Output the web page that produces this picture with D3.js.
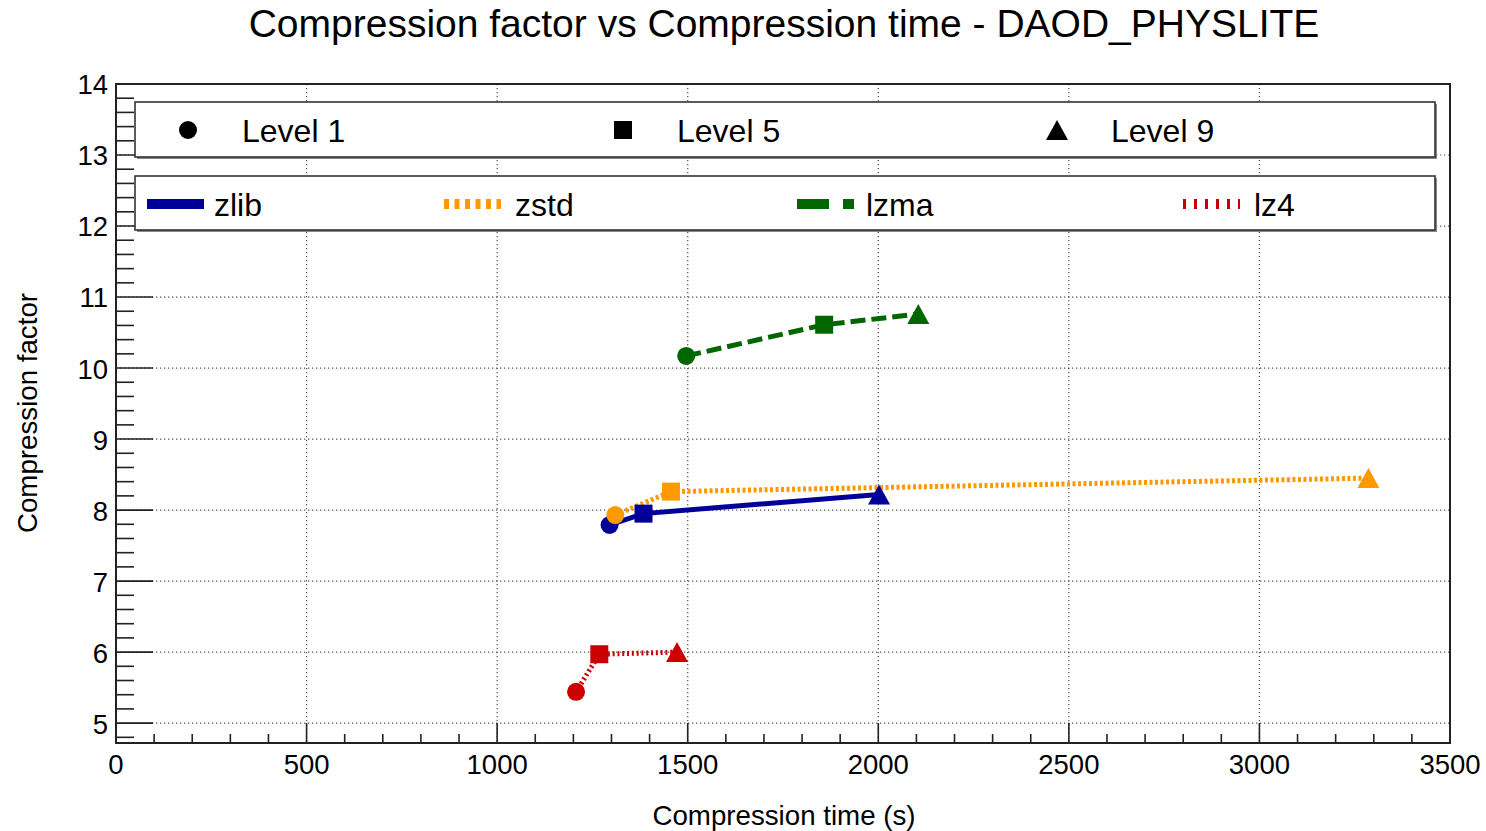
<!DOCTYPE html>
<html>
<head>
<meta charset="utf-8">
<script src="https://cdn.jsdelivr.net/npm/d3@7"></script>
<style>
  html, body { margin: 0; padding: 0; background: #fff; }
  svg { display: block; font-family: "Liberation Sans", Arial, Helvetica, sans-serif; }
</style>
</head>
<body>
<svg id="chart" width="1486" height="831"></svg>
<script>
// Compression benchmark: time (s) and compression factor per algorithm, at levels 1, 5, 9
const levels = ["Level 1", "Level 5", "Level 9"];
const algorithms = ["zlib", "zstd", "lzma", "lz4"];

const zlibTime = [1295, 1384, 2002];
const zlibFactor = [7.79, 7.95, 8.22];
const zstdTime = [1310, 1456, 3286];
const zstdFactor = [7.93, 8.26, 8.45];
const lzmaTime = [1496, 1858, 2105];
const lzmaFactor = [10.17, 10.61, 10.76];
const lz4Time = [1207, 1268, 1472];
const lz4Factor = [5.44, 5.97, 6.00];

const xTicks = [0, 500, 1000, 1500, 2000, 2500, 3000, 3500];
const yTicks = [5, 6, 7, 8, 9, 10, 11, 12, 13, 14];

const seriesStyle = {
  zlib: { color: "#000099", dash: null,       legendDash: null },
  zstd: { color: "#ff9900", dash: "3,2.5",    legendDash: "5,5.5" },
  lzma: { color: "#006600", dash: "15,6",     legendDash: "32,14" },
  lz4:  { color: "#cc0000", dash: "2,2.8",    legendDash: "3,8" }
};
const seriesData = {
  zlib: { time: zlibTime, factor: zlibFactor },
  zstd: { time: zstdTime, factor: zstdFactor },
  lzma: { time: lzmaTime, factor: lzmaFactor },
  lz4:  { time: lz4Time,  factor: lz4Factor }
};

const svg = d3.select("#chart");
const frame = { left: 116, right: 1450, top: 84, bottom: 743 };

const x = d3.scaleLinear().domain([0, 3500]).range([frame.left, frame.right]);
const y = d3.scaleLinear().domain([4.72, 14]).range([frame.bottom, frame.top]);

const axisColor = "#222";

// Grid (dotted)
const grid = svg.append("g");
grid.selectAll("line.gy").data(yTicks).join("line")
  .attr("x1", frame.left).attr("x2", frame.right)
  .attr("y1", d => y(d)).attr("y2", d => y(d))
  .attr("stroke", "#555").attr("stroke-width", 1.2)
  .attr("stroke-dasharray", "1.3,2.7");
grid.selectAll("line.gx").data(xTicks.filter(d => d > 0 && d < 3500)).join("line")
  .attr("x1", d => x(d)).attr("x2", d => x(d))
  .attr("y1", frame.top).attr("y2", frame.bottom)
  .attr("stroke", "#555").attr("stroke-width", 1.2)
  .attr("stroke-dasharray", "1.3,2.7");

// Minor/major ticks
const yMinor = d3.range(48, 141, 2).map(v => v / 10).filter(v => !yTicks.includes(v));
const xMinor = d3.range(100, 3500, 100).filter(v => v % 500 !== 0);

const ticks = svg.append("g").attr("stroke", axisColor).attr("stroke-width", 1.6);
ticks.selectAll("line.ymaj").data(yTicks).join("line")
  .attr("x1", frame.left).attr("x2", frame.left + 37)
  .attr("y1", d => y(d)).attr("y2", d => y(d));
ticks.selectAll("line.ymin").data(yMinor).join("line")
  .attr("x1", frame.left).attr("x2", frame.left + 18)
  .attr("y1", d => y(d)).attr("y2", d => y(d));
ticks.selectAll("line.xmaj").data(xTicks).join("line")
  .attr("x1", d => x(d)).attr("x2", d => x(d))
  .attr("y1", frame.bottom).attr("y2", frame.bottom - 20);
ticks.selectAll("line.xmin").data(xMinor).join("line")
  .attr("x1", d => x(d)).attr("x2", d => x(d))
  .attr("y1", frame.bottom).attr("y2", frame.bottom - 9);

// Frame
svg.append("rect")
  .attr("x", frame.left).attr("y", frame.top)
  .attr("width", frame.right - frame.left).attr("height", frame.bottom - frame.top)
  .attr("fill", "none").attr("stroke", axisColor).attr("stroke-width", 2);

// Tick labels
svg.append("g").selectAll("text").data(yTicks).join("text")
  .attr("x", 108).attr("y", d => y(d)).attr("dy", "0.38em")
  .attr("text-anchor", "end").attr("font-size", 27.5).attr("fill", "#000")
  .text(d => d);
svg.append("g").selectAll("text").data(xTicks).join("text")
  .attr("x", d => x(d)).attr("y", 774)
  .attr("text-anchor", "middle").attr("font-size", 27.5).attr("fill", "#000")
  .text(d => d);

// Titles
svg.append("text").attr("x", 784).attr("y", 37)
  .attr("text-anchor", "middle").attr("font-size", 39).attr("fill", "#000")
  .text("Compression factor vs Compression time - DAOD_PHYSLITE");
svg.append("text").attr("x", 784).attr("y", 825)
  .attr("text-anchor", "middle").attr("font-size", 27.7).attr("fill", "#000")
  .text("Compression time (s)");
svg.append("text")
  .attr("transform", "translate(37,413) rotate(-90)")
  .attr("text-anchor", "middle").attr("font-size", 27.7).attr("fill", "#000")
  .text("Compression factor");

// Marker shapes per level
const markerPath = [
  d3.symbol(d3.symbolCircle, Math.PI * 9 * 9),
  d3.symbol(d3.symbolSquare, 18 * 18),
  null
];
function drawMarker(g, levelIndex, cx, cy, color, scale) {
  const s = scale || 1;
  if (levelIndex === 2) {
    const w = 22 * s, h = 20 * s;
    g.append("path")
      .attr("d", `M${cx},${cy - h / 2}L${cx + w / 2},${cy + h / 2}L${cx - w / 2},${cy + h / 2}Z`)
      .attr("fill", color);
  } else {
    g.append("path")
      .attr("transform", `translate(${cx},${cy}) scale(${s})`)
      .attr("d", markerPath[levelIndex]())
      .attr("fill", color);
  }
}

// Series lines and markers
const plot = svg.append("g");
const line = d3.line().x(d => x(d[0])).y(d => y(d[1]));
algorithms.forEach(name => {
  const st = seriesStyle[name];
  const pts = seriesData[name].time.map((t, i) => [t, seriesData[name].factor[i]]);
  plot.append("path")
    .attr("d", line(pts))
    .attr("fill", "none").attr("stroke", st.color).attr("stroke-width", 5)
    .attr("stroke-dasharray", st.dash);
});
algorithms.forEach(name => {
  const st = seriesStyle[name];
  const g = plot.append("g");
  seriesData[name].time.forEach((t, i) => {
    drawMarker(g, i, x(t), y(seriesData[name].factor[i]), st.color);
  });
});

// Legends
function legendBox(x0, y0, w, h) {
  svg.append("rect").attr("x", x0 + 2).attr("y", y0 + 2).attr("width", w).attr("height", h)
    .attr("fill", "#888");
  svg.append("rect").attr("x", x0).attr("y", y0).attr("width", w).attr("height", h)
    .attr("fill", "#fff").attr("stroke", "#333").attr("stroke-width", 1.6);
}
legendBox(135, 102, 1300, 55);
legendBox(135, 176, 1300, 54);

const levelLegend = svg.append("g");
const levelMarkerX = [188, 623, 1057];
const levelTextX = [242, 677, 1111];
levels.forEach((lab, i) => {
  drawMarker(levelLegend, i, levelMarkerX[i], 130, "#000", 1);
  levelLegend.append("text").attr("x", levelTextX[i]).attr("y", 130).attr("dy", "0.37em")
    .attr("font-size", 32).attr("fill", "#000").text(lab);
});

const algoLegend = svg.append("g");
const algoLineX = [147, 444, 797, 1183];
const algoTextX = [214, 515, 866, 1254];
algorithms.forEach((name, i) => {
  const st = seriesStyle[name];
  algoLegend.append("line")
    .attr("x1", algoLineX[i]).attr("x2", algoLineX[i] + 57)
    .attr("y1", 204).attr("y2", 204)
    .attr("stroke", st.color).attr("stroke-width", 10)
    .attr("stroke-dasharray", st.legendDash);
  algoLegend.append("text").attr("x", algoTextX[i]).attr("y", 204).attr("dy", "0.37em")
    .attr("font-size", 32).attr("fill", "#000").text(name);
});
</script>
</body>
</html>
